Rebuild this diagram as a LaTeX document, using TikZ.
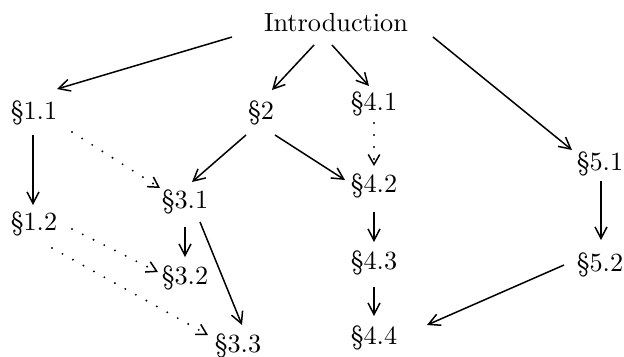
\documentclass[tikz,border=0pt]{standalone}
\usetikzlibrary{arrows.meta}
\begin{document}
\begin{tikzpicture}[x=0.4pt,y=-0.4pt,
  lbl/.style={inner sep=0pt,font=\fontsize{10.5}{12}\selectfont},
  arr/.style={line width=0.6pt,-{Straight Barb[length=4.6pt,width=4.8pt]}},
  dotarr/.style={line width=0.85pt,line cap=round,dash pattern=on 0pt off 4.8pt,
    -{Straight Barb[length=4pt,width=4.6pt,line width=0.6pt]}}]
\useasboundingbox (0,0) rectangle (624,356);
\node[lbl] (intro) at (336,23) {Introduction};
\node[lbl] (s11) at (34,113) {\S1.1};
\node[lbl] (s2) at (261,113) {\S2};
\node[lbl] (s41) at (374,104) {\S4.1};
\node[lbl] (s51) at (600,164) {\S5.1};
\node[lbl] (s12) at (34,224) {\S1.2};
\node[lbl] (s31) at (185,202) {\S3.1};
\node[lbl] (s42) at (374,186) {\S4.2};
\node[lbl] (s32) at (185,278) {\S3.2};
\node[lbl] (s43) at (374,263) {\S4.3};
\node[lbl] (s52) at (600,265) {\S5.2};
\node[lbl] (s33) at (238,346) {\S3.3};
\node[lbl] (s44) at (374,338) {\S4.4};

\draw[arr] ([shift={(-104,14)}]intro.center) -- ([shift={(23,-24)}]s11.center);
\draw[arr] ([shift={(-22,22)}]intro.center) -- ([shift={(11,-23)}]s2.center);
\draw[arr] ([shift={(-4,22)}]intro.center) -- ([shift={(-5,-18)}]s41.center);
\draw[arr] ([shift={(97,14)}]intro.center) -- ([shift={(-28,-14)}]s51.center);
\draw[arr] ([shift={(-1,22)}]s11.center) -- ([shift={(-1,-19)}]s12.center);
\draw[dotarr] ([shift={(38,19)}]s11.center) -- ([shift={(-25,-14)}]s31.center);
\draw[arr] ([shift={(-15,22)}]s2.center) -- ([shift={(7,-20)}]s31.center);
\draw[arr] ([shift={(14,22)}]s2.center) -- ([shift={(-29,-6)}]s42.center);
\draw[dotarr] ([shift={(0,19)}]s41.center) -- ([shift={(0,-20)}]s42.center);
\draw[arr] ([shift={(0,25)}]s31.center) -- ([shift={(0,-21)}]s32.center);
\draw[arr] ([shift={(15,20)}]s31.center) -- ([shift={(4,-21)}]s33.center);
\draw[dotarr] ([shift={(38,5)}]s12.center) -- ([shift={(-27,-6)}]s32.center);
\draw[dotarr] ([shift={(18,24)}]s12.center) -- ([shift={(-30,-11)}]s33.center);
\draw[arr] ([shift={(0,26)}]s42.center) -- ([shift={(0,-21)}]s43.center);
\draw[arr] ([shift={(0,24)}]s43.center) -- ([shift={(0,-22)}]s44.center);
\draw[arr] ([shift={(1,17)}]s51.center) -- ([shift={(1,-25)}]s52.center);
\draw[arr] ([shift={(-36,0)}]s52.center) -- ([shift={(53,-13)}]s44.center);
\end{tikzpicture}
\end{document}
